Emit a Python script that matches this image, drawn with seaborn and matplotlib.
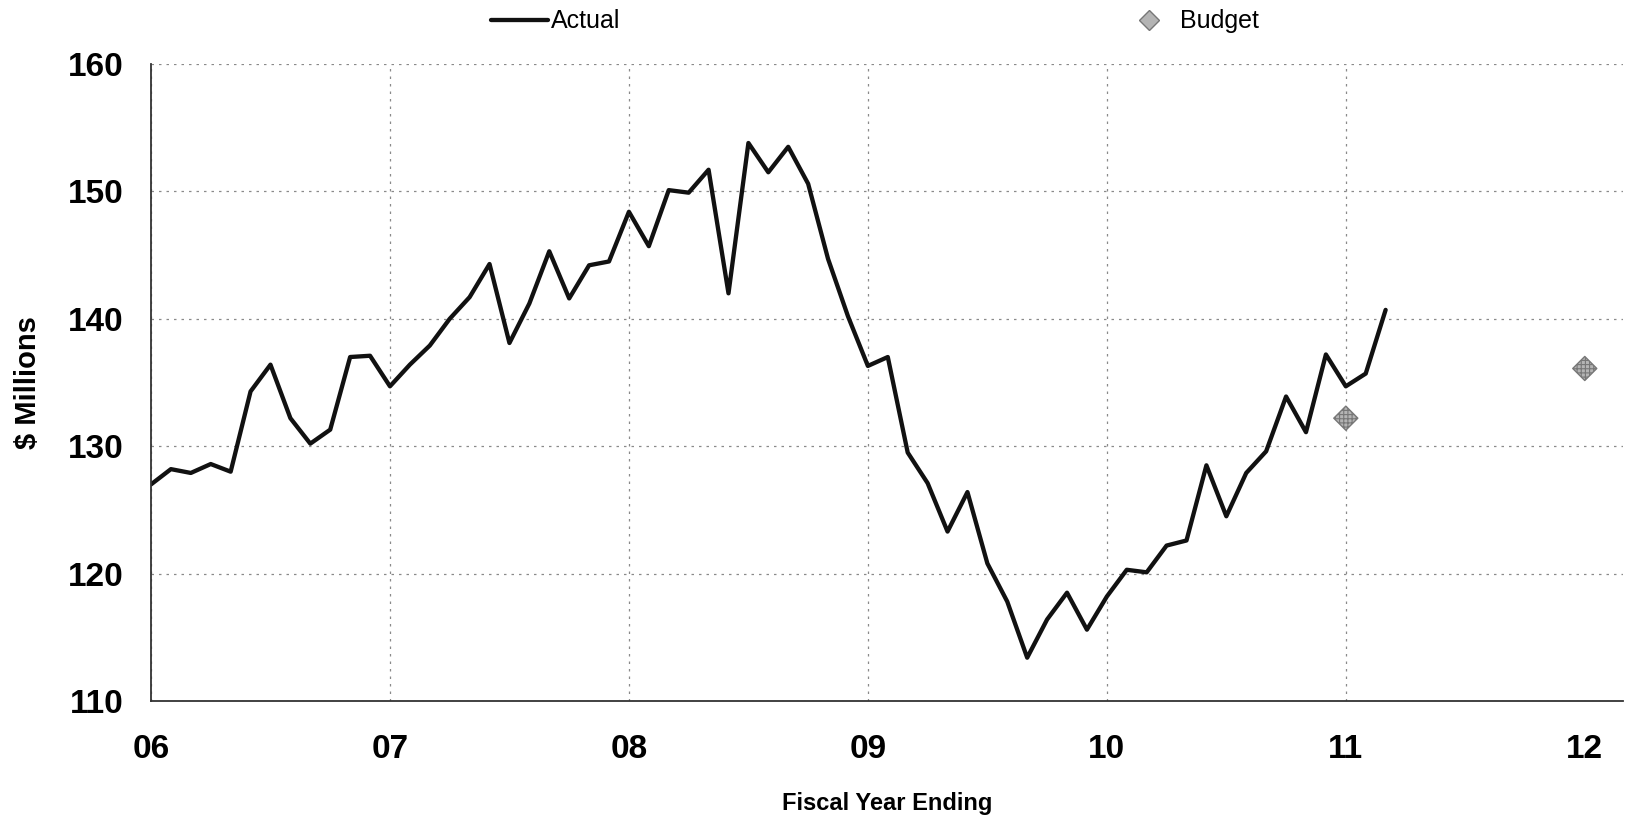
import numpy as np
import pandas as pd
import matplotlib
matplotlib.use("Agg")
import matplotlib.pyplot as plt
import seaborn as sns
from matplotlib.lines import Line2D

# Monthly actual values ($ millions), starting at the end of fiscal year 06
actual = [
    127.0, 128.2, 127.9, 128.6, 128.0, 134.3, 136.4, 132.2, 130.2, 131.3, 137.0, 137.1,
    134.7, 136.4, 137.9, 140.0, 141.7, 144.3, 138.1, 141.2, 145.3, 141.6, 144.2, 144.5,
    148.4, 145.7, 150.1, 149.9, 151.7, 142.0, 153.8, 151.5, 153.5, 150.6, 144.7, 140.2,
    136.3, 137.0, 129.5, 127.1, 123.3, 126.4, 120.8, 117.8, 113.4, 116.4, 118.5, 115.6,
    118.2, 120.3, 120.1, 122.2, 122.6, 128.5, 124.5, 127.9, 129.6, 133.9, 131.1, 137.2,
    134.7, 135.7, 140.7,
]
start_year = 6
months_per_year = 12

# Budget figures at fiscal year ends
budget_years = [11, 12]
budget_values = [132.2, 136.1]

year_ticks = [6, 7, 8, 9, 10, 11, 12]
year_labels = ["06", "07", "08", "09", "10", "11", "12"]
y_ticks = [110, 120, 130, 140, 150, 160]

actual_df = pd.DataFrame({
    "year": start_year + np.arange(len(actual)) / months_per_year,
    "value": actual,
})
budget_df = pd.DataFrame({"year": budget_years, "value": budget_values})

sns.set_style("white")
plt.rcParams["font.family"] = ["Liberation Sans", "DejaVu Sans"]
plt.rcParams["text.color"] = "black"
plt.rcParams["axes.labelcolor"] = "black"
plt.rcParams["xtick.color"] = "black"
plt.rcParams["ytick.color"] = "black"
plt.rcParams["hatch.color"] = "#6a6a6a"
plt.rcParams["hatch.linewidth"] = 0.8

fig = plt.figure(figsize=(16.26, 8.23), dpi=100)
ax = fig.add_axes([151 / 1626, 1 - 701 / 823, 1472 / 1626, (701 - 64) / 823])

sns.lineplot(data=actual_df, x="year", y="value", ax=ax, color="#111111",
             linewidth=3.1, legend=False)
sns.scatterplot(data=budget_df, x="year", y="value", ax=ax, marker="D", s=150,
                color="#b4b4b4", edgecolor="#777777", linewidth=1.0,
                hatch="++++", legend=False, zorder=5)

ax.set_xlim(6, 12.16)
ax.set_ylim(110, 160)
ax.set_xticks(year_ticks)
ax.set_xticklabels(year_labels)
ax.set_yticks(y_ticks)

ax.grid(True, color="#8a8a8a", linestyle=(0, (2, 4)), linewidth=0.9)
for gl in ax.xaxis.get_gridlines()[-1:]:
    gl.set_visible(False)

for side in ["top", "right"]:
    ax.spines[side].set_visible(False)
for side in ["left", "bottom"]:
    ax.spines[side].set_color("#333333")
    ax.spines[side].set_linewidth(1.3)

ax.tick_params(axis="both", which="major", direction="out", length=8, width=1.0,
               color="#333333", labelsize=24)
ax.tick_params(axis="x", pad=16)
ax.tick_params(axis="y", pad=12)
for lbl in ax.get_xticklabels() + ax.get_yticklabels():
    lbl.set_fontweight("bold")

ax.set_xlabel("Fiscal Year Ending", fontsize=17, fontweight="bold", labelpad=19)
ax.set_ylabel("$ Millions", fontsize=21, fontweight="bold", labelpad=18)

handles = [
    Line2D([], [], color="#111111", linewidth=3.1),
    Line2D([], [], linestyle="none", marker="D", markersize=10,
           markerfacecolor="#b4b4b4", markeredgecolor="#777777"),
]
fig.legend(handles, ["Actual", "Budget"], loc="center", ncol=2,
           bbox_to_anchor=(0.538, 0.974), frameon=False, fontsize=18,
           handlelength=2.3, handletextpad=0.1, columnspacing=20)

fig.savefig("out.png", dpi=100)
